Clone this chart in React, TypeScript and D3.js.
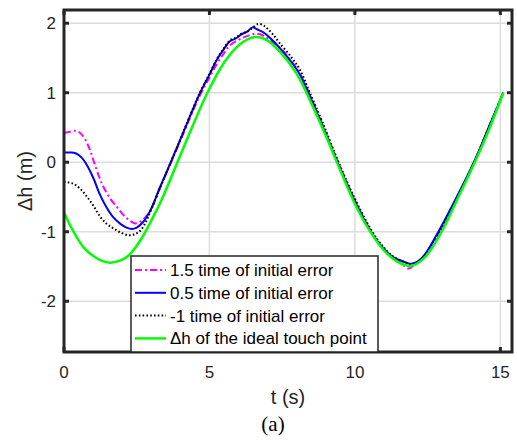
import React from "react";
import * as d3 from "d3";

const xTicks = [0, 5, 10, 15];
const yTicks = [-2, -1, 0, 1, 2];

const seriesNames = [
  "1.5 time of initial error",
  "0.5 time of initial error",
  "-1 time of initial error",
  "\u0394h of the ideal touch point",
];

const tMag = [0, 0.2, 0.44, 0.65, 0.85, 1.01, 1.2, 1.35, 1.6, 1.81, 2.0, 2.2, 2.45, 2.68, 2.96, 3.3, 3.64, 4.0, 4.33, 4.67, 5.0, 5.25, 5.5, 5.7, 6.0, 6.2, 6.39, 6.56, 6.8, 7.0, 7.42, 7.8, 8.11, 8.42, 8.88, 9.42, 9.97, 10.55, 11.0, 11.3, 11.55, 11.84, 12.0, 12.2, 12.4, 12.9, 13.5, 14.1, 14.6, 15.1];
const hMag = [0.42, 0.44, 0.45, 0.38, 0.22, 0.03, -0.2, -0.35, -0.53, -0.64, -0.74, -0.82, -0.88, -0.84, -0.7, -0.37, -0.04, 0.31, 0.64, 0.96, 1.22, 1.41, 1.57, 1.68, 1.76, 1.8, 1.83, 1.85, 1.83, 1.78, 1.65, 1.46, 1.27, 1.0, 0.55, 0.0, -0.52, -0.99, -1.26, -1.38, -1.44, -1.53, -1.49, -1.43, -1.34, -1.0, -0.52, 0.0, 0.5, 1.0];

const tBlue = [0, 0.2, 0.4, 0.6, 0.8, 1.0, 1.24, 1.45, 1.69, 1.95, 2.15, 2.33, 2.5, 2.72, 2.96, 3.3, 3.64, 4.0, 4.33, 4.67, 5.0, 5.25, 5.5, 5.7, 5.9, 6.1, 6.3, 6.48, 6.65, 6.85, 7.0, 7.2, 7.42, 7.8, 8.11, 8.4, 8.85, 9.4, 9.95, 10.55, 11.0, 11.3, 11.55, 11.8, 11.95, 12.15, 12.4, 12.87, 13.5, 14.09, 14.6, 15.1];
const hBlue = [0.14, 0.14, 0.13, 0.07, -0.05, -0.22, -0.47, -0.64, -0.79, -0.89, -0.94, -0.96, -0.94, -0.86, -0.7, -0.36, -0.03, 0.33, 0.66, 0.99, 1.26, 1.47, 1.63, 1.74, 1.78, 1.84, 1.88, 1.94, 1.91, 1.87, 1.82, 1.74, 1.64, 1.45, 1.26, 1.0, 0.56, 0.0, -0.52, -1.0, -1.25, -1.36, -1.41, -1.45, -1.46, -1.43, -1.33, -1.0, -0.5, 0.0, 0.5, 1.0];

const tBlack = [0, 0.32, 0.55, 0.78, 1.0, 1.24, 1.45, 1.69, 1.95, 2.21, 2.4, 2.61, 2.8, 2.96, 3.3, 3.64, 4.0, 4.33, 4.67, 5.0, 5.25, 5.5, 5.7, 5.9, 6.1, 6.3, 6.5, 6.68, 6.85, 7.0, 7.2, 7.42, 7.8, 8.11, 8.45, 8.9, 9.42, 9.97, 10.57, 11.0, 11.3, 11.55, 11.78, 11.95, 12.15, 12.4, 12.9, 13.5, 14.1, 14.6, 15.1];
const hBlack = [-0.28, -0.31, -0.38, -0.49, -0.62, -0.78, -0.88, -0.95, -1.01, -1.05, -1.04, -0.99, -0.87, -0.72, -0.37, -0.03, 0.33, 0.67, 1.0, 1.27, 1.48, 1.64, 1.75, 1.79, 1.85, 1.88, 1.94, 1.99, 1.97, 1.92, 1.83, 1.71, 1.52, 1.33, 1.0, 0.56, 0.02, -0.5, -0.98, -1.23, -1.35, -1.41, -1.45, -1.47, -1.44, -1.35, -1.02, -0.52, 0.0, 0.5, 1.0];

const tIdeal = [0, 0.2, 0.44, 0.7, 1.01, 1.3, 1.58, 1.9, 2.2, 2.6, 3.0, 3.4, 3.9, 4.4, 4.93, 5.5, 6.0, 6.56, 7.0, 7.42, 8.0, 8.5, 9.0, 9.5, 10.0, 10.5, 11.0, 11.5, 11.95, 12.4, 12.98, 13.5, 14.12, 14.6, 15.1];
const hIdeal = [-0.72, -0.9, -1.08, -1.24, -1.35, -1.42, -1.445, -1.42, -1.35, -1.14, -0.84, -0.5, 0.0, 0.5, 1.0, 1.43, 1.68, 1.8, 1.75, 1.59, 1.27, 0.85, 0.38, -0.12, -0.6, -0.98, -1.27, -1.44, -1.49, -1.37, -1.0, -0.55, 0.0, 0.46, 1.0];

const W = 517;
const H = 440;
const L = 64, R = 512, T = 10, B = 352;

export default function App() {
  const x = d3.scaleLinear().domain([0, 15.4]).range([L, R]);
  const y = d3.scaleLinear().domain([-2.73, 2.19]).range([B, T]);
  const line = d3
    .line<[number, number]>()
    .x((d) => x(d[0]))
    .y((d) => y(d[1]))
    .curve(d3.curveCatmullRom.alpha(0.5));
  const zip = (a: number[], b: number[]) => a.map((v, i) => [v, b[i]] as [number, number]);

  const series = [
    { name: seriesNames[0], d: zip(tMag, hMag), color: "#ff00ff", dash: "7 3 2 3", w: 2 },
    { name: seriesNames[1], d: zip(tBlue, hBlue), color: "#0000ff", dash: undefined, w: 2 },
    { name: seriesNames[2], d: zip(tBlack, hBlack), color: "#000000", dash: "1.6 2.2", w: 2 },
    { name: seriesNames[3], d: zip(tIdeal, hIdeal), color: "#00ff00", dash: undefined, w: 2.5 },
  ];
  const font = "'Liberation Sans', Arial, sans-serif";
  const axisColor = "#262626";
  const legX = 131, legY = 256, legW = 247, legH = 96;

  return (
    <svg width={W} height={H} style={{ position: "absolute", left: 0, top: 0, background: "#fff" }}>
      <defs>
        <clipPath id="plotclip">
          <rect x={L} y={T} width={R - L} height={B - T} />
        </clipPath>
      </defs>
      <rect x={0} y={0} width={W} height={H} fill="#fff" />
      {xTicks.map((t) => (
        <line key={"gx" + t} x1={x(t)} x2={x(t)} y1={T} y2={B} stroke="#dcdcdc" strokeWidth={1.5} />
      ))}
      {yTicks.map((t) => (
        <line key={"gy" + t} x1={L} x2={R} y1={y(t)} y2={y(t)} stroke="#dcdcdc" strokeWidth={1.5} />
      ))}
      <g clipPath="url(#plotclip)">
        {series.map((s) => (
          <path
            key={s.name}
            d={line(s.d) || ""}
            fill="none"
            stroke={s.color}
            strokeWidth={s.w}
            strokeDasharray={s.dash}
          />
        ))}
      </g>
      <rect x={L} y={T} width={R - L} height={B - T} fill="none" stroke={axisColor} strokeWidth={3} />
      {xTicks.map((t) => (
        <g key={"tx" + t}>
          <line x1={x(t)} x2={x(t)} y1={B} y2={B - 5} stroke={axisColor} strokeWidth={3} />
          <line x1={x(t)} x2={x(t)} y1={T} y2={T + 5} stroke={axisColor} strokeWidth={3} />
          <text x={x(t)} y={378} textAnchor="middle" fontFamily={font} fontSize={17} fill={axisColor}>
            {t}
          </text>
        </g>
      ))}
      {yTicks.map((t) => (
        <g key={"ty" + t}>
          <line x1={L} x2={L + 5} y1={y(t)} y2={y(t)} stroke={axisColor} strokeWidth={3} />
          <line x1={R} x2={R - 5} y1={y(t)} y2={y(t)} stroke={axisColor} strokeWidth={3} />
          <text x={56} y={y(t) + 6} textAnchor="end" fontFamily={font} fontSize={17} fill={axisColor}>
            {t}
          </text>
        </g>
      ))}
      <text x={(L + R) / 2} y={404} textAnchor="middle" fontFamily={font} fontSize={20} fill={axisColor}>
        t (s)
      </text>
      <text
        transform={`translate(32, ${(T + B) / 2}) rotate(-90)`}
        textAnchor="middle"
        fontFamily={font}
        fontSize={20}
        fill={axisColor}
      >
        {"\u0394h (m)"}
      </text>
      <text x={273} y={431} textAnchor="middle" fontFamily="'Liberation Serif', 'Times New Roman', serif" fontSize={21} fill="#000">
        (a)
      </text>
      <rect x={legX} y={legY} width={legW} height={legH} fill="#fff" stroke={axisColor} strokeWidth={1.5} />
      {series.map((s, i) => {
        const cy = 270 + i * 22.8;
        return (
          <g key={"leg" + i}>
            <line x1={135} x2={166} y1={cy} y2={cy} stroke={s.color} strokeWidth={s.w} strokeDasharray={s.dash} />
            <text x={170} y={cy + 6} fontFamily={font} fontSize={17} fill="#000">
              {s.name}
            </text>
          </g>
        );
      })}
    </svg>
  );
}
